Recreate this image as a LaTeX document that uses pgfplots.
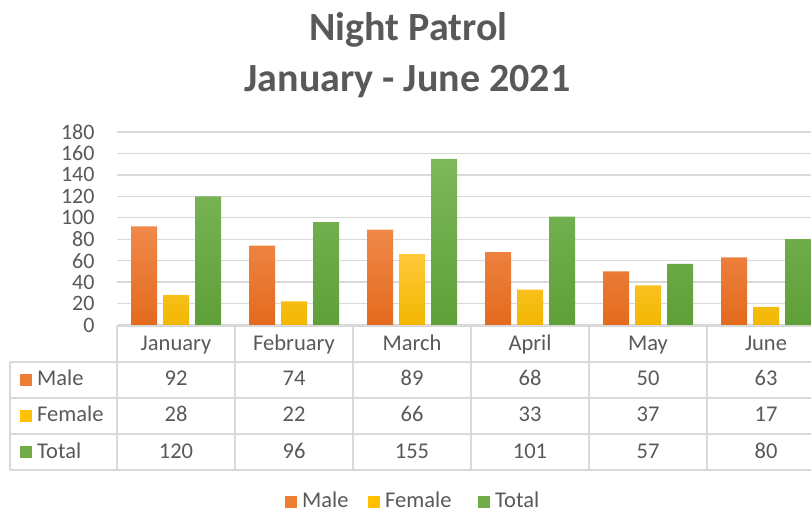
\documentclass[border=0pt]{standalone}
\usepackage{pgfplots}
\pgfplotsset{compat=1.18}
\usepackage{fontspec}
\setmainfont{Carlito}
\definecolor{txt}{HTML}{595959}
\definecolor{gridc}{HTML}{D9D9D9}
\definecolor{maleT}{HTML}{F0894A}
\definecolor{maleB}{HTML}{E36A1D}
\definecolor{male}{HTML}{ED7D31}
\definecolor{femT}{HTML}{FFC93A}
\definecolor{femB}{HTML}{F2B700}
\definecolor{fem}{HTML}{FFC000}
\definecolor{totT}{HTML}{7DB85B}
\definecolor{totB}{HTML}{5F9F38}
\definecolor{tot}{HTML}{70AD47}
\begin{document}
\begin{tikzpicture}[x=1pt,y=1pt]
\path[use as bounding box] (0,0) rectangle (811,514);
\clip (0,0) rectangle (811,514);
\begin{axis}[
  at={(117pt,189pt)}, anchor=south west,
  scale only axis, width=708pt, height=193pt,
  xmin=-0.5, xmax=5.5, ymin=0, ymax=180,
  ytick={0,20,...,180}, xtick=\empty,
  axis line style={draw=none},
  major tick length=0pt,
  ymajorgrids, grid style={gridc, line width=1.3pt},
  tick label style={font=\fontsize{22}{22}\selectfont, text=txt},
  /pgf/number format/assume math mode=true,
  yticklabel style={xshift=-19pt},
  ybar=6pt, bar width=26pt,
  clip=false,
]
\addplot[draw=none, top color=maleT, bottom color=maleB] coordinates {(0,92) (1,74) (2,89) (3,68) (4,50) (5,63)};
\addplot[draw=none, top color=femT, bottom color=femB] coordinates {(0,28) (1,22) (2,66) (3,33) (4,37) (5,17)};
\addplot[draw=none, top color=totT, bottom color=totB] coordinates {(0,120) (1,96) (2,155) (3,101) (4,57) (5,80)};
\end{axis}
% data table grid
\begin{scope}[draw=gridc, line width=1.3pt]
\draw (117,188) -- (830,188);
\foreach \y in {152,116,80,44} \draw (10,\y) -- (830,\y);
\draw (10,152) -- (10,44);
\foreach \x in {117,235,353,471,589,707} \draw (\x,188) -- (\x,44);
\end{scope}
\begin{scope}[every node/.style={font=\fontsize{22.5}{22.5}\selectfont, text=txt, inner sep=0pt}]
\foreach \m [count=\i from 0] in {January,February,March,April,May,June}
  \node[anchor=base] at (176+118*\i,163) {\m};
\foreach \v [count=\i from 0] in {92,74,89,68,50,63}
  \node[anchor=base] at (176+118*\i,128) {\v};
\foreach \v [count=\i from 0] in {28,22,66,33,37,17}
  \node[anchor=base] at (176+118*\i,92) {\v};
\foreach \v [count=\i from 0] in {120,96,155,101,57,80}
  \node[anchor=base] at (176+118*\i,56) {\v};
\fill[male] (20,128) rectangle (32,140);
\node[anchor=base west] at (37,128) {Male};
\fill[fem] (20,92) rectangle (32,104);
\node[anchor=base west] at (37,92) {Female};
\fill[tot] (20,56) rectangle (32,68);
\node[anchor=base west] at (37,56) {Total};
% legend
\fill[male] (285,6) rectangle (297,18);
\node[anchor=base west] at (302,6) {Male};
\fill[fem] (368,6) rectangle (380,18);
\node[anchor=base west] at (385,6) {Female};
\fill[tot] (478,6) rectangle (490,18);
\node[anchor=base west] at (495,6) {Total};
\end{scope}
% title
\node[anchor=base, font=\fontsize{40}{40}\selectfont\bfseries, text=txt, inner sep=0pt] at (408.5,473) {Night Patrol};
\node[anchor=base, font=\fontsize{40}{40}\selectfont\bfseries, text=txt, inner sep=0pt] at (407.5,422) {January - June 2021};
\end{tikzpicture}
\end{document}
